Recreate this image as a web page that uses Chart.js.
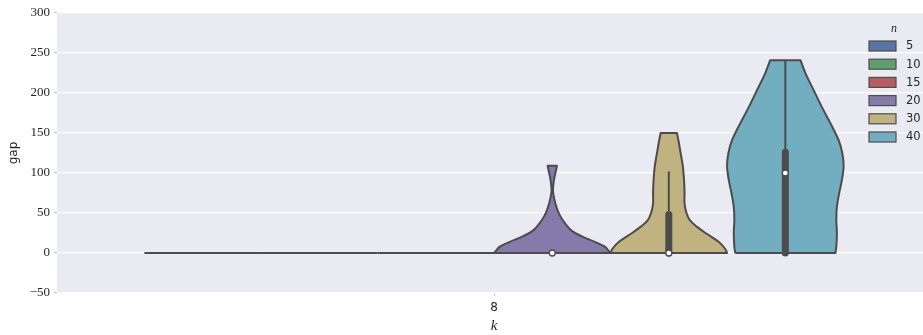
<!DOCTYPE html>
<html><head><meta charset="utf-8">
<script src="https://cdn.jsdelivr.net/npm/chart.js@4/dist/chart.umd.min.js"></script>
<style>html,body{margin:0;padding:0;background:#fff;overflow:hidden;width:923px;height:335px}canvas{display:block}</style>
</head><body><canvas id="c" width="940" height="335"></canvas>
<script>
// ---- data ----
const categories = ['8'];
const hueLevels = ['5', '10', '15', '20', '30', '40'];
const hueColors = ['#5875A4', '#5F9E6E', '#B55D60', '#857AAA', '#C1B37F', '#71AEC0'];
const yTicks = [-50, 0, 50, 100, 150, 200, 250, 300];

// violin outlines: gap levels and relative density (1 = widest)
const gap5 = [0];     const density5 = [1];
const gap10 = [0];    const density10 = [1];
const gap15 = [0];    const density15 = [1];
const gap20 = [0, 3, 8, 14, 21, 28, 37, 47, 57, 68, 78, 91, 101, 109];
const density20 = [1.0, 0.965, 0.90, 0.73, 0.50, 0.33, 0.22, 0.13, 0.074, 0.034, 0.012, 0.029, 0.057, 0.08];
const gap30 = [0, 5, 14, 24, 33, 41, 51, 62, 76, 93, 109, 126, 139, 150];
const density30 = [1.0, 0.97, 0.855, 0.65, 0.48, 0.36, 0.30, 0.27, 0.27, 0.26, 0.24, 0.20, 0.17, 0.14];
const gap40 = [0, 8, 25, 41, 58, 75, 91, 108, 124, 141, 162, 182, 203, 224, 241];
const density40 = [0.86, 0.875, 0.885, 0.875, 0.885, 0.925, 0.97, 1.0, 0.98, 0.915, 0.775, 0.63, 0.49, 0.35, 0.26];

// inner box statistics
const boxLow = [0, 0, 0, 0, 0, 0];
const boxHigh = [0, 0, 0, 0, 48, 126];
const whiskerHigh = [0, 0, 0, 0, 102, 241];
const medians = [0, 0, 0, 0, 0, 100];

// ---- build datasets ----
const EDGE = '#4c4c4c';
const gapsList = [gap5, gap10, gap15, gap20, gap30, gap40];
const densList = [density5, density10, density15, density20, density30, density40];
const nH = hueLevels.length;
const groupW = 0.8, violW = groupW / nH, HW = violW / 2;
const centers = hueLevels.map((_, i) => -groupW / 2 + (i + 0.5) * violW);

function violinPoints(c, gaps, dens) {
  if (gaps.length === 1) return [{x: c - HW * dens[0], y: gaps[0]}, {x: c + HW * dens[0], y: gaps[0]}];
  const left = gaps.map((g, j) => ({x: c - dens[j] * HW, y: g}));
  const right = gaps.map((g, j) => ({x: c + dens[j] * HW, y: g})).reverse();
  const L = left.length - 1, R = right.length - 1;
  // corners repeated so the smoothed outline keeps sharp corners at the cut ends
  return [left[0], ...left, left[L], right[0], ...right, right[R], left[0]];
}

const datasets = [];
hueLevels.forEach((h, i) => {
  const single = gapsList[i].length === 1;
  datasets.push({
    label: h, data: violinPoints(centers[i], gapsList[i], densList[i]),
    showLine: true, fill: single ? false : 'shape', tension: 0.35,
    backgroundColor: hueColors[i], borderColor: EDGE, borderWidth: 2,
    borderJoinStyle: 'round', pointRadius: 0, order: 5
  });
  if (single) return;
  if (whiskerHigh[i] > boxHigh[i]) {
    datasets.push({label: '_w' + h, data: [{x: centers[i], y: boxHigh[i]}, {x: centers[i], y: whiskerHigh[i]}],
      showLine: true, borderColor: EDGE, borderWidth: 2, pointRadius: 0, order: 3});
  }
  if (boxHigh[i] > boxLow[i]) {
    datasets.push({label: '_b' + h, data: [{x: centers[i], y: boxLow[i]}, {x: centers[i], y: boxHigh[i]}],
      showLine: true, borderColor: EDGE, borderWidth: 7, borderCapStyle: 'round', pointRadius: 0, order: 2});
  }
  datasets.push({label: '_m' + h, data: [{x: centers[i], y: medians[i]}],
    showLine: false, pointRadius: 3, pointBackgroundColor: '#fff', pointBorderColor: EDGE, pointBorderWidth: 1.3, order: 1});
});

const bgPlugin = {
  id: 'bg',
  beforeDraw(chart) {
    const {ctx, chartArea: a} = chart;
    ctx.save(); ctx.fillStyle = '#EAEAF2';
    ctx.fillRect(a.left, a.top, a.right - a.left, a.bottom - a.top);
    ctx.restore();
  }
};

const legendPlugin = {
  id: 'hueLegend',
  afterDraw(chart) {
    const ctx = chart.ctx;
    const x0 = 869, y0 = 41, step = 18.2;
    ctx.save();
    ctx.fillStyle = '#262626';
    ctx.font = 'italic 12px "Liberation Serif"';
    ctx.textAlign = 'center'; ctx.textBaseline = 'middle';
    ctx.fillText('n', 894, 28.5);
    ctx.font = '11.5px "DejaVu Sans"';
    ctx.textAlign = 'left';
    hueLevels.forEach((h, i) => {
      const y = y0 + i * step;
      ctx.fillStyle = hueColors[i];
      ctx.fillRect(x0, y, 27, 10);
      ctx.strokeStyle = EDGE; ctx.lineWidth = 1.2;
      ctx.strokeRect(x0, y, 27, 10);
      ctx.fillStyle = '#262626';
      ctx.fillText(h, 906, y + 5.5);
    });
    ctx.restore();
  }
};

new Chart(document.getElementById('c'), {
  type: 'scatter',
  data: {datasets},
  options: {
    responsive: false, animation: false, events: [],
    layout: {padding: {top: 13, right: 9, left: 0, bottom: 0}},
    plugins: {legend: {display: false}, tooltip: {enabled: false}},
    scales: {
      x: {type: 'linear', min: -0.5, max: 0.5, display: false},
      xCat: {
        type: 'category', labels: categories, position: 'bottom', offset: true,
        grid: {display: true, drawOnChartArea: false, tickLength: 3, tickColor: '#cccccc'},
        border: {display: false},
        ticks: {color: '#262626', font: {family: 'DejaVu Sans', size: 12}, padding: 5},
        title: {display: true, text: 'k', color: '#262626', font: {family: 'Liberation Serif', size: 15, style: 'italic'}, padding: {top: 0, bottom: 0}},
        afterFit(s) { s.height = 42; }
      },
      y: {
        min: -50, max: 300,
        afterBuildTicks(s) { s.ticks = yTicks.map(v => ({value: v})); },
        grid: {color: '#ffffff', lineWidth: 1.2, tickLength: 3, tickColor: '#cccccc'},
        border: {display: false},
        ticks: {color: '#262626', font: {family: 'Liberation Serif', size: 13}, padding: 4,
          callback: v => String(v).replace('-', '\u2212')},
        title: {display: true, text: 'gap', color: '#262626', font: {family: 'DejaVu Sans', size: 12}, padding: {top: 7, bottom: 0}},
        afterFit(s) { s.width = 57; }
      }
    }
  },
  plugins: [bgPlugin, legendPlugin]
});
</script>
</body></html>
